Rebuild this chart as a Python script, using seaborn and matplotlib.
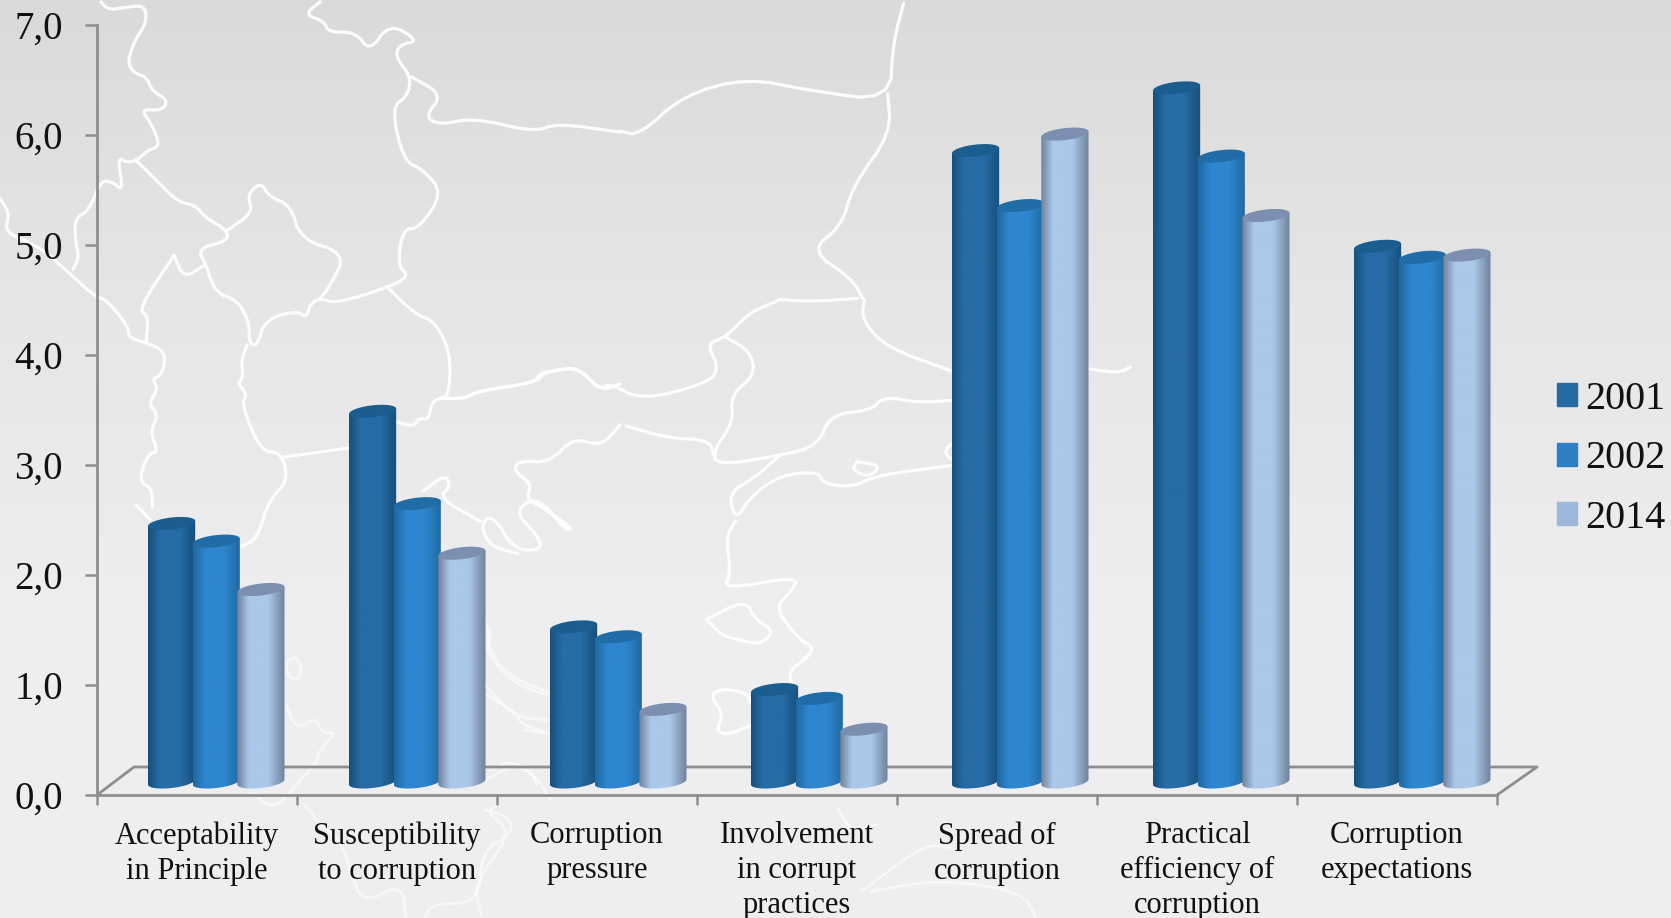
import matplotlib
matplotlib.use('Agg')
import matplotlib.pyplot as plt
import numpy as np
import pandas as pd
import seaborn as sns
from matplotlib.colors import LinearSegmentedColormap
from matplotlib.patches import Patch, PathPatch
from matplotlib.path import Path


WIDTH, HEIGHT = 1671, 918

categories = [
  'Acceptability\nin Principle',
  'Susceptibility\nto corruption',
  'Corruption\npressure',
  'Involvement\nin corrupt\npractices',
  'Spread of\ncorruption',
  'Practical\nefficiency of\ncorruption',
  'Corruption\nexpectations',
]
years = ['2001', '2002', '2014']
values_2001 = [2.35, 3.37, 1.41, 0.84, 5.74, 6.31, 4.87]
values_2002 = [2.19, 2.53, 1.32, 0.76, 5.24, 5.69, 4.77]
values_2014 = [1.75, 2.08, 0.66, 0.48, 5.89, 5.15, 4.79]
y_ticks = [0, 1, 2, 3, 4, 5, 6, 7]

legend_colors = ['#256aa2', '#2e80c4', '#9db8da']
edge_colors = ['#174f7a', '#1f689f', '#6f819c']
mid_colors = ['#266ca6', '#2e86cf', '#abc8e9']
cap_colors = ['#1c5d8f', '#1f6ca6', '#7c8fb0']

north_frame = (0, 0, 2.529, 2.8)
middle_frame = (440, 300, 2.063, 2.537)
south_frame = (0, 550, 2.613, 3.0)
whole_frame = (0, 0, 1568 / 1671, 1568 / 1671)

north_lines = [
  [(255, 5), (275, 28), (320, 20), (365, 15), (372, 60), (340, 115), (322, 175), (340, 205), (370, 215), (385, 255), (425, 280), (410, 310), (355, 305), (385, 350), (405, 410), (375, 420), (345, 450), (320, 455), (297, 440), (312, 535), (285, 510), (255, 505), (225, 590), (190, 610), (190, 670), (200, 720), (185, 755)],
  [(345, 450), (400, 510), (450, 565), (495, 575), (520, 610), (575, 645), (575, 675), (500, 695), (520, 740), (545, 820), (600, 840), (630, 900), (630, 960), (650, 970), (670, 895), (750, 870), (775, 890), (785, 850), (810, 835), (850, 850), (980, 805), (1035, 775), (1005, 740), (1020, 640), (1060, 640), (1120, 540), (1070, 475), (1020, 450), (990, 300), (1030, 270), (1040, 215), (1000, 160), (1010, 125), (1060, 115), (985, 65), (935, 145), (900, 90), (830, 90), (820, 60), (770, 40), (810, 5)],
  [(575, 645), (640, 595), (625, 545), (660, 510), (680, 550), (735, 575), (760, 670), (875, 710), (835, 800), (810, 835)],
  [(1040, 215), (1120, 265), (1075, 325), (1110, 350), (1200, 330), (1350, 370), (1410, 345), (1568, 370)],
  [(980, 805), (1050, 880), (1100, 900), (1140, 990), (1135, 1110), (1110, 1115), (1090, 1130), (1085, 1175), (1060, 1170), (1045, 1195), (1000, 1180)],
  [(1135, 1115), (1180, 1115), (1210, 1095), (1360, 1070), (1370, 1045), (1460, 1025), (1520, 1095), (1568, 1075)],
  [(625, 965), (610, 1010), (615, 1060), (600, 1070), (625, 1105), (610, 1130), (660, 1265), (710, 1265), (730, 1345), (680, 1400), (650, 1510), (610, 1530)],
  [(715, 1280), (880, 1255)],
  [(440, 715), (350, 865), (375, 885), (370, 955)],
  [(440, 715), (465, 780), (520, 740)],
  [(0, 555), (25, 600), (10, 650), (100, 690), (180, 770), (240, 830), (270, 840), (325, 915), (325, 945), (370, 960), (420, 985), (410, 1050), (385, 1060), (400, 1090), (375, 1130), (400, 1160), (380, 1210), (400, 1265), (375, 1270), (350, 1345), (385, 1370), (385, 1420)],
  [(345, 1415), (380, 1455)],
  [(1568, 1190), (1520, 1250), (1450, 1225), (1390, 1295), (1310, 1290), (1300, 1320), (1345, 1355), (1330, 1395), (1370, 1420), (1450, 1480), (1430, 1485), (1360, 1390), (1300, 1430), (1360, 1500), (1370, 1540), (1300, 1540), (1245, 1440), (1215, 1470), (1240, 1530), (1310, 1550)],
  [(1215, 1460), (1110, 1395), (1140, 1360), (1125, 1330), (1070, 1375)],
]
middle_lines = [
  [(0, 250), (50, 250), (80, 230), (195, 210), (205, 185), (240, 180), (285, 170), (330, 230), (350, 210), (415, 255), (555, 210), (575, 170), (550, 110), (590, 95), (635, 35), (680, 10), (700, 0)],
  [(590, 95), (640, 130), (650, 190), (600, 240), (605, 310), (565, 380), (570, 420), (700, 395), (780, 370), (805, 290), (890, 280), (915, 245), (985, 260), (1055, 255)],
  [(875, 0), (870, 50), (920, 120), (1055, 180)],
  [(1340, 175), (1400, 185), (1425, 170)],
  [(385, 320), (470, 350), (555, 355), (565, 395)],
  [(700, 395), (650, 450), (595, 490), (610, 560), (640, 500), (700, 445), (780, 435), (790, 465), (850, 475), (900, 445), (1055, 420)],
  [(860, 410), (850, 430), (885, 450), (910, 420), (860, 410)],
  [(1055, 365), (1040, 385), (1055, 405)],
  [(610, 560), (590, 600), (600, 690), (585, 735), (740, 700), (725, 740), (690, 780), (740, 860), (770, 880), (760, 905), (720, 940), (725, 975)],
  [(550, 810), (630, 760), (650, 810), (690, 840), (660, 875), (610, 860), (580, 850), (550, 810)],
  [(640, 1020), (635, 1000), (590, 985), (555, 1000), (585, 1050), (570, 1090), (590, 1105), (640, 1080)],
]
faint_middle_lines = [
  [(95, 830), (105, 900), (150, 960), (225, 995)],
  [(95, 1000), (160, 1050), (165, 1075), (225, 1100)],
  [(90, 1220), (150, 1180), (190, 1200), (200, 1230)],
  [(120, 1280), (95, 1300), (150, 1350), (70, 1480), (85, 1560)],
  [(820, 1290), (850, 1350), (900, 1330)],
  [(870, 1500), (1000, 1380), (1050, 1390)],
  [(890, 1500), (1030, 1470), (1200, 1500), (1230, 1568)],
]
faint_south_lines = [
  [(750, 330), (780, 320), (790, 385), (750, 385), (750, 330)],
  [(745, 460), (775, 540), (825, 500), (840, 550), (880, 545), (835, 600), (825, 640), (770, 710), (715, 780), (660, 730)],
  [(1270, 220), (1285, 260), (1265, 300), (1340, 400), (1430, 435)],
  [(1265, 400), (1340, 500), (1430, 510)],
  [(1370, 540), (1430, 550)],
  [(800, 770), (840, 830), (890, 870), (920, 980), (950, 1060), (1050, 1000), (1060, 1104)],
  [(1265, 780), (1330, 800), (1340, 850), (1260, 900), (1250, 1060), (1130, 1060), (1110, 1104)],
  [(1280, 660), (1340, 630), (1400, 680), (1440, 750)],
]
whole_lines = [
  [(581, 123), (600, 127), (640, 90), (700, 73), (760, 85), (835, 95), (838, 40), (848, 3)],
  [(833, 88), (836, 125), (800, 175), (790, 212), (760, 235), (800, 262), (810, 281)],
  [(731, 281), (760, 283), (805, 280)],
]


def smooth(points, rounds=2):
  pts = np.array(points, dtype=float)
  for _ in range(rounds):
    q = pts[:-1] * 0.75 + pts[1:] * 0.25
    r = pts[:-1] * 0.25 + pts[1:] * 0.75
    mixed = np.empty((len(q) * 2, 2))
    mixed[0::2] = q
    mixed[1::2] = r
    pts = np.vstack([pts[:1], mixed, pts[-1:]])
  return pts


def draw_map(axis, lines, frame, alpha, lw):
  x0, y0, sx, sy = frame
  for line in lines:
    pts = smooth(line)
    axis.plot(x0 + pts[:, 0] / sx, y0 + pts[:, 1] / sy, color='white', lw=lw, alpha=alpha,
              solid_joinstyle='round', solid_capstyle='round')


def cylinder(axis, x0, x1, y_top, y_base, index, order):
  half = (x1 - x0) / 2
  mid = (x0 + x1) / 2
  tilt = 0.11
  rise = 6.0

  t = np.linspace(np.pi, 0, 40)
  px = mid + half * np.cos(t)
  bottom = y_base + rise * np.sin(t) - tilt * (px - mid)
  top_edge = y_top - tilt * (np.array([x0, x1]) - mid)
  verts = [(x0, top_edge[0])] + list(zip(px, bottom)) + [(x1, top_edge[1]), (x0, top_edge[0])]
  clip = PathPatch(Path(verts), transform=axis.transData, facecolor='none', edgecolor='none')
  axis.add_patch(clip)

  cmap = LinearSegmentedColormap.from_list('cyl', [
    (0.0, edge_colors[index]),
    (0.25, mid_colors[index]),
    (0.65, mid_colors[index]),
    (1.0, edge_colors[index]),
  ])
  grad = np.linspace(0, 1, 128).reshape(1, -1)
  im = axis.imshow(grad, cmap=cmap, aspect='auto', zorder=order,
                   extent=(x0, x1, y_base + 12, y_top - 8))
  im.set_clip_path(clip)

  t = np.linspace(0, 2 * np.pi, 80)
  px = mid + half * np.cos(t)
  py = y_top + rise * np.sin(t) - tilt * (px - mid)
  axis.fill(px, py, color=cap_colors[index], lw=0, zorder=order + 0.5)


def main() -> None:
  sns.set_theme(style='white')
  plt.rcParams['font.family'] = ['Liberation Serif', 'DejaVu Serif']

  df = pd.DataFrame({
    'category': categories * 3,
    'year': np.repeat(years, len(categories)),
    'value': values_2001 + values_2002 + values_2014,
  })

  fig = plt.figure(figsize=(WIDTH / 100, HEIGHT / 100), dpi=100)

  # full figure layer in pixels: gradient, map, floor
  back = fig.add_axes([0, 0, 1, 1], zorder=0)
  grad = np.linspace(0, 1, 256).reshape(-1, 1)
  bg_cmap = LinearSegmentedColormap.from_list('bg', ['#dadada', '#e6e6e7', '#eeeef0', '#eeeef0'])
  back.imshow(grad, cmap=bg_cmap, aspect='auto', extent=(0, WIDTH, HEIGHT, 0))
  draw_map(back, north_lines, north_frame, 0.92, 2.3)
  draw_map(back, middle_lines, middle_frame, 0.92, 2.3)
  draw_map(back, whole_lines, whole_frame, 0.92, 2.3)
  draw_map(back, faint_middle_lines, middle_frame, 0.55, 2.0)
  draw_map(back, faint_south_lines, south_frame, 0.55, 2.0)
  back.plot([97, 134, 1537, 1497], [795, 767, 767, 795], color='#8e8e8e', lw=2.0)
  back.set_xlim(0, WIDTH)
  back.set_ylim(HEIGHT, 0)
  back.axis('off')

  ax = fig.add_axes([97 / WIDTH, (HEIGHT - 795) / HEIGHT, 1400 / WIDTH, 770 / HEIGHT], zorder=1)
  ax.patch.set_alpha(0)
  sns.barplot(data=df, x='category', y='value', hue='year', hue_order=years,
              palette=legend_colors, width=0.67, gap=0, legend=False, ax=ax)
  ax.set_xlim(-0.5, 6.5)
  ax.set_ylim(0, 7)
  ax.set_xlabel('')
  ax.set_ylabel('')
  sns.despine(ax=ax)
  for side in ['left', 'bottom']:
    ax.spines[side].set_color('#8e8e8e')
    ax.spines[side].set_linewidth(2.0)

  ax.set_yticks(y_ticks)
  ax.set_yticklabels([f'{v:.1f}'.replace('.', ',') for v in y_ticks], fontsize=28, color='#111111')
  ax.tick_params(axis='y', length=9, width=1.8, color='#8e8e8e', left=True, pad=15.5)
  ax.set_xticks(range(len(categories)))
  ax.set_xticklabels(categories, fontsize=22, color='#111111', linespacing=1.27)
  ax.tick_params(axis='x', which='major', length=0, pad=19)
  ax.set_xticks(np.arange(-0.5, 7), minor=True)
  ax.tick_params(axis='x', which='minor', length=7.5, width=1.8, color='#8e8e8e', bottom=True)

  # cylinders sit over the bars seaborn placed, shifted back onto the floor
  front = fig.add_axes([0, 0, 1, 1], zorder=2)
  front.patch.set_alpha(0)
  fig.canvas.draw()
  order = 3
  for index, container in enumerate(ax.containers):
    for group, bar in enumerate(container):
      x = bar.get_x()
      w = bar.get_width()
      height = bar.get_height()
      (x0, y_top), (x1, y_base) = ax.transData.transform([(x, height), (x + w, 0)])
      y_top, y_base = HEIGHT - y_top, HEIGHT - y_base
      bar.set_visible(False)
      cylinder(front, x0 + 18 + group, x1 + 20.5 + group, y_top - 13, y_base - 13, index, order)
      order += 1
  front.set_xlim(0, WIDTH)
  front.set_ylim(HEIGHT, 0)
  front.axis('off')

  handles = [Patch(color=c, label=y) for c, y in zip(legend_colors, years)]
  fig.legend(handles=handles, loc='center left', bbox_to_anchor=(1557 / WIDTH, 1 - 459 / HEIGHT),
             frameon=False, fontsize=29, labelcolor='#111111', handlelength=0.5,
             handleheight=0.5, handletextpad=0.2, labelspacing=0.56, borderpad=0, borderaxespad=0)

  fig.savefig('out.png', dpi=100)


if __name__ == '__main__':
  main()
